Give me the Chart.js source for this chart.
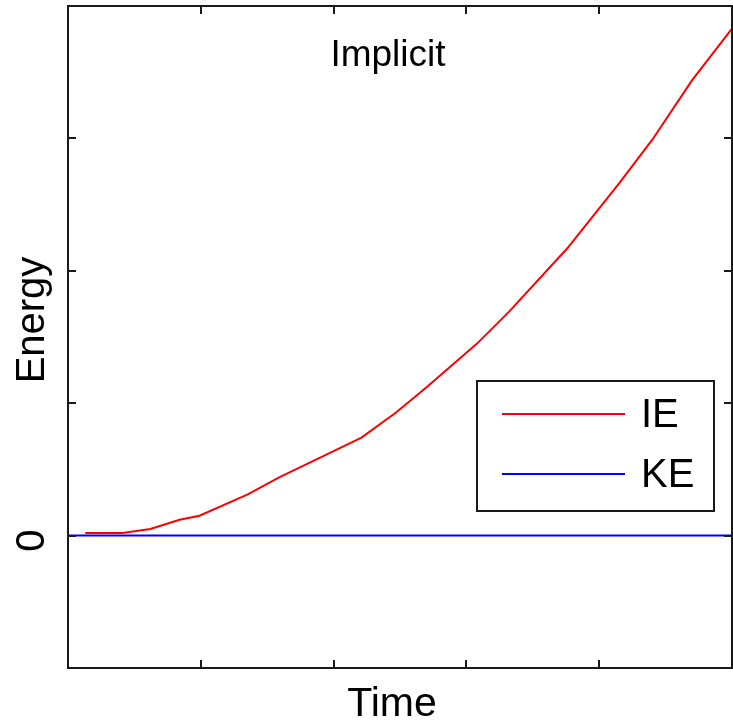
<!DOCTYPE html>
<html>
<head>
<meta charset="utf-8">
<script src="https://cdn.jsdelivr.net/npm/chart.js@4/dist/chart.umd.min.js"></script>
<style>
  html, body { margin: 0; padding: 0; background: #ffffff; }
  #wrap { width: 733px; height: 721px; }
</style>
</head>
<body>
<div id="wrap"><canvas id="c" width="733" height="721"></canvas></div>
<script>
// ---- data ----
const chartTitle = "Implicit";
const xAxisTitle = "Time";
const yAxisTitle = "Energy";
const seriesNames = ["IE", "KE"];
const ieTime   = [0.13, 0.41, 0.62, 0.84, 0.99, 1.35, 1.59, 1.84, 2.21, 2.47, 2.70, 3.08, 3.32, 3.76, 4.15, 4.40, 4.70, 5.00];
const ieEnergy = [0.02, 0.02, 0.05, 0.12, 0.15, 0.31, 0.44, 0.56, 0.74, 0.93, 1.12, 1.45, 1.69, 2.17, 2.66, 2.99, 3.44, 3.83];
const keTime   = [0, 5];
const keEnergy = [0, 0];
const xTicks = [0, 1, 2, 3, 4, 5];
const yTicks = [-1, 0, 1, 2, 3, 4];
const yTickLabels = ["", "0", "", "", "", ""];
const xRange = [0, 5];
const yRange = [-1, 4];

const FONT = '"Liberation Sans", Arial, sans-serif';

const framePlugin = {
  id: 'frame',
  afterDatasetsDraw(chart) {
    const ctx = chart.ctx;
    const a = chart.chartArea;
    const xs = chart.scales.x, ys = chart.scales.y;
    ctx.save();
    // frame
    ctx.strokeStyle = '#1a1a1a';
    ctx.lineWidth = 2;
    ctx.strokeRect(a.left, a.top, a.right - a.left, a.bottom - a.top);
    // inward tick marks
    const tl = 8;
    ctx.beginPath();
    xTicks.forEach(v => {
      const px = Math.round(xs.getPixelForValue(v));
      ctx.moveTo(px, a.bottom); ctx.lineTo(px, a.bottom - tl);
      ctx.moveTo(px, a.top); ctx.lineTo(px, a.top + tl);
    });
    yTicks.forEach(v => {
      const py = Math.round(ys.getPixelForValue(v));
      ctx.moveTo(a.left, py); ctx.lineTo(a.left + tl, py);
      ctx.moveTo(a.right, py); ctx.lineTo(a.right - tl, py);
    });
    ctx.stroke();

    ctx.fillStyle = '#000';
    // y tick labels (rotated)
    ctx.font = '40px ' + FONT;
    yTicks.forEach((v, i) => {
      const lab = yTickLabels[i];
      if (!lab) return;
      const py = ys.getPixelForValue(v);
      ctx.save();
      ctx.translate(44, py + 5);
      ctx.rotate(-Math.PI / 2);
      ctx.textAlign = 'center';
      ctx.textBaseline = 'alphabetic';
      ctx.fillText(lab, 0, 0);
      ctx.restore();
    });
    // y axis title
    ctx.save();
    ctx.translate(44, 320);
    ctx.rotate(-Math.PI / 2);
    ctx.textAlign = 'center';
    ctx.textBaseline = 'alphabetic';
    ctx.font = '40px ' + FONT;
    ctx.fillText(yAxisTitle, 0, 0);
    ctx.restore();
    // x axis title
    ctx.textAlign = 'center';
    ctx.textBaseline = 'alphabetic';
    ctx.font = '41px ' + FONT;
    ctx.fillText(xAxisTitle, 392, 716);
    // chart title inside plot
    ctx.font = '37px ' + FONT;
    ctx.fillText(chartTitle, 388, 66);

    // legend box
    const lx = 477, ly = 381, lw = 237, lh = 130;
    ctx.fillStyle = '#fff';
    ctx.fillRect(lx, ly, lw, lh);
    ctx.strokeStyle = '#1a1a1a';
    ctx.lineWidth = 2;
    ctx.strokeRect(lx, ly, lw, lh);
    const rows = [414, 474];
    chart.data.datasets.forEach((ds, i) => {
      ctx.strokeStyle = ds.borderColor;
      ctx.lineWidth = 2;
      ctx.beginPath();
      ctx.moveTo(502, rows[i]); ctx.lineTo(625, rows[i]);
      ctx.stroke();
      ctx.fillStyle = '#000';
      ctx.textAlign = 'left';
      ctx.textBaseline = 'middle';
      ctx.font = '40px ' + FONT;
      ctx.fillText(ds.label, 641, rows[i] + 2);
    });
    ctx.restore();
  }
};

const toPts = (xs, ys) => xs.map((x, i) => ({ x: x, y: ys[i] }));

new Chart(document.getElementById('c'), {
  type: 'line',
  data: {
    datasets: [
      { label: seriesNames[0], data: toPts(ieTime, ieEnergy), borderColor: '#ff0000', borderWidth: 2, pointRadius: 0, tension: 0, fill: false },
      { label: seriesNames[1], data: toPts(keTime, keEnergy), borderColor: '#0000ff', borderWidth: 2, pointRadius: 0, tension: 0, fill: false }
    ]
  },
  options: {
    responsive: false,
    animation: false,
    layout: { padding: { left: 68, top: 6, right: 1, bottom: 53 } },
    plugins: { legend: { display: false }, title: { display: false }, tooltip: { enabled: false } },
    scales: {
      x: { type: 'linear', min: xRange[0], max: xRange[1], display: false },
      y: { type: 'linear', min: yRange[0], max: yRange[1], display: false }
    }
  },
  plugins: [framePlugin]
});
</script>
</body>
</html>
